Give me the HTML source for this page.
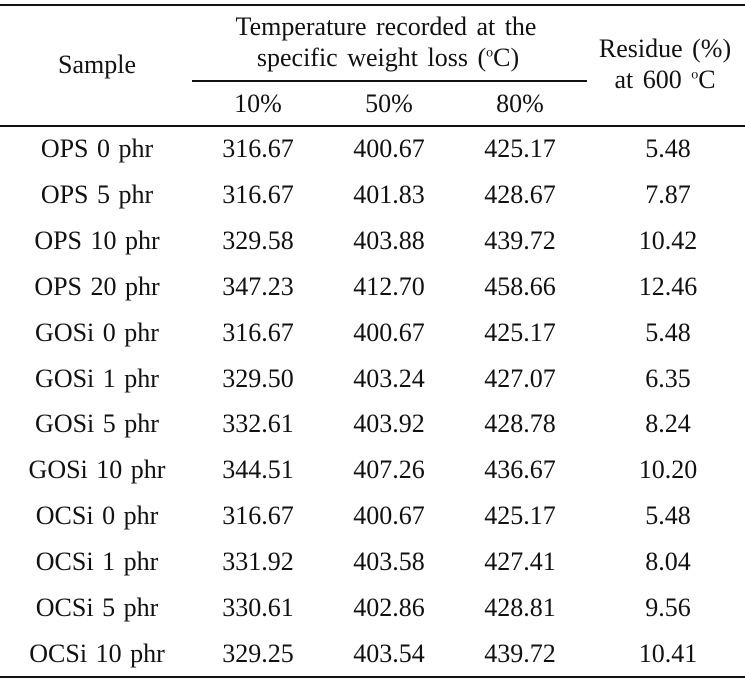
<!DOCTYPE html>
<html><head><meta charset="utf-8"><style>
body{margin:0;background:#fff;}
#t{position:relative;width:745px;height:680px;font-family:"Liberation Serif",serif;font-size:26px;color:#111;}
.c{position:absolute;transform:translate(-50%,-50%);white-space:nowrap;}
.l{position:absolute;background:#111;height:2px;}
</style></head><body>
<div id="t">
<div class="l" style="left:0;top:4px;width:745px"></div>
<div class="l" style="left:192px;top:80px;width:395px;height:1.5px"></div>
<div class="l" style="left:0;top:125px;width:745px;height:1.5px"></div>
<div class="l" style="left:0;top:676px;width:745px"></div>
<div class="c" style="left:97px;top:65px">Sample</div>
<div class="c" style="left:386px;top:27px;word-spacing:3px">Temperature recorded at the</div>
<div class="c" style="left:388px;top:58px;word-spacing:3px">specific weight loss (<sup style="font-size:14px">o</sup>C)</div>
<div class="c" style="left:665px;top:49px;word-spacing:3px">Residue (%)</div>
<div class="c" style="left:665px;top:80px;word-spacing:3px">at 600 <sup style="font-size:14px">o</sup>C</div>
<div class="c" style="left:258px;top:104px">10%</div>
<div class="c" style="left:389px;top:104px">50%</div>
<div class="c" style="left:520px;top:104px">80%</div>
</div>
<script>
const samples=["OPS 0 phr","OPS 5 phr","OPS 10 phr","OPS 20 phr","GOSi 0 phr","GOSi 1 phr","GOSi 5 phr","GOSi 10 phr","OCSi 0 phr","OCSi 1 phr","OCSi 5 phr","OCSi 10 phr"];
const t10=["316.67","316.67","329.58","347.23","316.67","329.50","332.61","344.51","316.67","331.92","330.61","329.25"];
const t50=["400.67","401.83","403.88","412.70","400.67","403.24","403.92","407.26","400.67","403.58","402.86","403.54"];
const t80=["425.17","428.67","439.72","458.66","425.17","427.07","428.78","436.67","425.17","427.41","428.81","439.72"];
const residue=["5.48","7.87","10.42","12.46","5.48","6.35","8.24","10.20","5.48","8.04","9.56","10.41"];
const t=document.getElementById('t');
const xs=[97,258,389,520,668];
samples.forEach((s,i)=>{
  const y=149+i*45.9;
  [s,t10[i],t50[i],t80[i],residue[i]].forEach((v,j)=>{
    const d=document.createElement('div');
    d.className='c';
    d.style.left=xs[j]+'px';d.style.top=y+'px';
    if(j==0)d.style.wordSpacing='2px';
    d.textContent=v;
    
    
    t.appendChild(d);
  });
});
</script>
</body></html>
